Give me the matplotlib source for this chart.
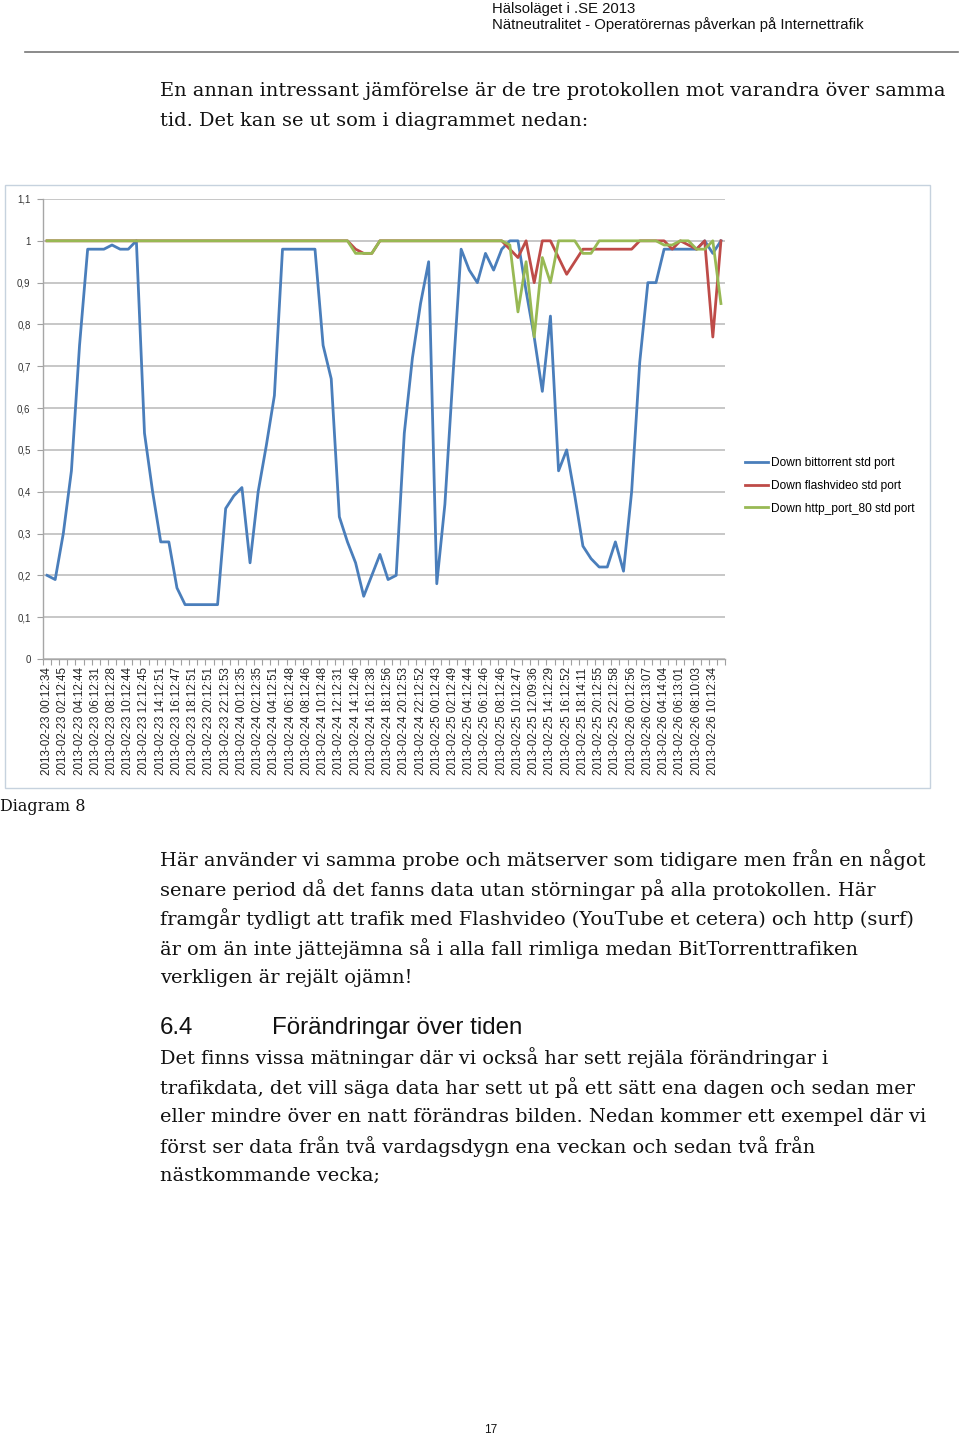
import matplotlib
matplotlib.use("Agg")
import matplotlib.pyplot as plt
from matplotlib.patches import Rectangle
from matplotlib.lines import Line2D

# --- data ---
series_names = ["Down bittorrent std port", "Down flashvideo std port", "Down http_port_80 std port"]

bittorrent = [0.20, 0.19, 0.30, 0.45, 0.75, 0.98, 0.98, 0.98, 0.99, 0.98,
              0.98, 1.00, 0.54, 0.40, 0.28, 0.28, 0.17, 0.13, 0.13, 0.13,
              0.13, 0.13, 0.36, 0.39, 0.41, 0.23, 0.40, 0.51, 0.63, 0.98,
              0.98, 0.98, 0.98, 0.98, 0.75, 0.67, 0.34, 0.28, 0.23, 0.15,
              0.20, 0.25, 0.19, 0.20, 0.54, 0.72, 0.85, 0.95, 0.18, 0.37,
              0.68, 0.98, 0.93, 0.90, 0.97, 0.93, 0.98, 1.00, 1.00, 0.88,
              0.77, 0.64, 0.82, 0.45, 0.50, 0.39, 0.27, 0.24, 0.22, 0.22,
              0.28, 0.21, 0.40, 0.71, 0.90, 0.90, 0.98, 0.98, 0.98, 0.98,
              0.98, 1.00, 0.97, 1.00]

flashvideo = [1.00, 1.00, 1.00, 1.00, 1.00, 1.00, 1.00, 1.00, 1.00, 1.00,
              1.00, 1.00, 1.00, 1.00, 1.00, 1.00, 1.00, 1.00, 1.00, 1.00,
              1.00, 1.00, 1.00, 1.00, 1.00, 1.00, 1.00, 1.00, 1.00, 1.00,
              1.00, 1.00, 1.00, 1.00, 1.00, 1.00, 1.00, 1.00, 0.98, 0.97,
              0.97, 1.00, 1.00, 1.00, 1.00, 1.00, 1.00, 1.00, 1.00, 1.00,
              1.00, 1.00, 1.00, 1.00, 1.00, 1.00, 1.00, 0.98, 0.96, 1.00,
              0.90, 1.00, 1.00, 0.96, 0.92, 0.95, 0.98, 0.98, 0.98, 0.98,
              0.98, 0.98, 0.98, 1.00, 1.00, 1.00, 1.00, 0.98, 1.00, 0.99,
              0.98, 1.00, 0.77, 1.00]

http80 = [1.00, 1.00, 1.00, 1.00, 1.00, 1.00, 1.00, 1.00, 1.00, 1.00,
          1.00, 1.00, 1.00, 1.00, 1.00, 1.00, 1.00, 1.00, 1.00, 1.00,
          1.00, 1.00, 1.00, 1.00, 1.00, 1.00, 1.00, 1.00, 1.00, 1.00,
          1.00, 1.00, 1.00, 1.00, 1.00, 1.00, 1.00, 1.00, 0.97, 0.97,
          0.97, 1.00, 1.00, 1.00, 1.00, 1.00, 1.00, 1.00, 1.00, 1.00,
          1.00, 1.00, 1.00, 1.00, 1.00, 1.00, 1.00, 0.99, 0.83, 0.95,
          0.77, 0.96, 0.90, 1.00, 1.00, 1.00, 0.97, 0.97, 1.00, 1.00,
          1.00, 1.00, 1.00, 1.00, 1.00, 1.00, 0.99, 0.99, 1.00, 1.00,
          0.98, 0.98, 1.00, 0.85]

# every second hourly sample carries a label
tick_labels = ["2013-02-23 00:12:34", "2013-02-23 02:12:45", "2013-02-23 04:12:44",
               "2013-02-23 06:12:31", "2013-02-23 08:12:28", "2013-02-23 10:12:44",
               "2013-02-23 12:12:45", "2013-02-23 14:12:51", "2013-02-23 16:12:47",
               "2013-02-23 18:12:51", "2013-02-23 20:12:51", "2013-02-23 22:12:53",
               "2013-02-24 00:12:35", "2013-02-24 02:12:35", "2013-02-24 04:12:51",
               "2013-02-24 06:12:48", "2013-02-24 08:12:46", "2013-02-24 10:12:48",
               "2013-02-24 12:12:31", "2013-02-24 14:12:46", "2013-02-24 16:12:38",
               "2013-02-24 18:12:56", "2013-02-24 20:12:53", "2013-02-24 22:12:52",
               "2013-02-25 00:12:43", "2013-02-25 02:12:49", "2013-02-25 04:12:44",
               "2013-02-25 06:12:46", "2013-02-25 08:12:46", "2013-02-25 10:12:47",
               "2013-02-25 12:09:36", "2013-02-25 14:12:29", "2013-02-25 16:12:52",
               "2013-02-25 18:14:11", "2013-02-25 20:12:55", "2013-02-25 22:12:58",
               "2013-02-26 00:12:56", "2013-02-26 02:13:07", "2013-02-26 04:14:04",
               "2013-02-26 06:13:01", "2013-02-26 08:10:03", "2013-02-26 10:12:34"]

y_ticks = [0, 0.1, 0.2, 0.3, 0.4, 0.5, 0.6, 0.7, 0.8, 0.9, 1.0, 1.1]
y_tick_labels = ["0", "0,1", "0,2", "0,3", "0,4", "0,5", "0,6", "0,7", "0,8", "0,9", "1", "1,1"]

header = ["Hälsoläget i .SE 2013",
          "Nätneutralitet - Operatörernas påverkan på Internettrafik"]
intro = ["En annan intressant jämförelse är de tre protokollen mot varandra över samma",
         "tid. Det kan se ut som i diagrammet nedan:"]
para1 = ["Här använder vi samma probe och mätserver som tidigare men från en något",
         "senare period då det fanns data utan störningar på alla protokollen. Här",
         "framgår tydligt att trafik med Flashvideo (YouTube et cetera) och http (surf)",
         "är om än inte jättejämna så i alla fall rimliga medan BitTorrenttrafiken",
         "verkligen är rejält ojämn!"]
para2 = ["Det finns vissa mätningar där vi också har sett rejäla förändringar i",
         "trafikdata, det vill säga data har sett ut på ett sätt ena dagen och sedan mer",
         "eller mindre över en natt förändras bilden. Nedan kommer ett exempel där vi",
         "först ser data från två vardagsdygn ena veckan och sedan två från",
         "nästkommande vecka;"]

W, H = 960, 1438
fig = plt.figure(figsize=(W / 100, H / 100), dpi=100)
fig.patch.set_facecolor("white")

def fx(x):
    return x / W

def fy(y):
    return 1 - y / H

SANS = ["Liberation Sans", "DejaVu Sans"]
SERIF = ["DejaVu Serif"]

# page header
fig.text(fx(492), fy(8.5), header[0], fontsize=10.7, family=SANS, va="center", color="#111111")
fig.text(fx(492), fy(25), header[1], fontsize=10.7, family=SANS, va="center", color="#111111")
fig.add_artist(Line2D([fx(25), fx(958)], [fy(52), fy(52)], color="#777777", lw=1.2))

body_fs = 13.95
for k, line in enumerate(intro):
    fig.text(fx(160), fy(91 + 29.5 * k), line, fontsize=body_fs, family=SERIF, va="center", color="#111111")

# chart area frame
fig.add_artist(Rectangle((fx(5), fy(788)), fx(930) - fx(5), fy(185) - fy(788),
                         transform=fig.transFigure, fill=False, ec="#c6d2de", lw=1.0))

ax = fig.add_axes([fx(43), fy(659), fx(725) - fx(43), fy(199) - fy(659)])
x = list(range(len(bittorrent)))
ax.plot(x, bittorrent, color="#4a7ebb", lw=2.0, label=series_names[0], solid_joinstyle="round")
ax.plot(x, flashvideo, color="#be4b48", lw=2.0, label=series_names[1], solid_joinstyle="round")
ax.plot(x, http80, color="#98b954", lw=2.0, label=series_names[2], solid_joinstyle="round")

ax.set_xlim(-0.5, len(bittorrent) - 0.5)
ax.set_ylim(0, 1.1)
ax.set_yticks(y_ticks)
ax.set_yticklabels(y_tick_labels, fontsize=7.0, family=SANS, color="#333333")
ax.set_xticks(range(0, len(bittorrent), 2))
ax.set_xticklabels(tick_labels, rotation=90, fontsize=8.4, family=SANS, color="#222222",
                   va="top", ha="center")
ax.set_xticks([i - 0.5 for i in range(len(bittorrent) + 1)], minor=True)
ax.tick_params(axis="x", which="major", length=0, pad=6)
ax.tick_params(axis="x", which="minor", length=4, color="#a0a0a0", width=0.8)
ax.tick_params(axis="y", length=4, color="#a0a0a0", width=0.8, pad=5)
ax.yaxis.grid(True, color="#bdbdbd", lw=1.2)
ax.set_axisbelow(True)
for s in ["top", "right"]:
    ax.spines[s].set_visible(False)
for s in ["left", "bottom"]:
    ax.spines[s].set_color("#a6a6a6")
    ax.spines[s].set_linewidth(1.0)

fig.legend(loc="upper left", bbox_to_anchor=(fx(745), fy(457)), frameon=False,
           handlelength=1.95, handletextpad=0.25, labelspacing=0.9,
           borderpad=0, borderaxespad=0, prop={"family": SANS, "size": 8.6})

fig.text(fx(0), fy(806), "Diagram 8", fontsize=11.5, family=SERIF, va="center", color="#111111")

for k, line in enumerate(para1):
    fig.text(fx(160), fy(860 + 29.5 * k), line, fontsize=body_fs, family=SERIF, va="center", color="#111111")

fig.text(fx(160), fy(1028), "6.4", fontsize=17.4, family=SANS, va="center", color="#111111")
fig.text(fx(272), fy(1028), "Förändringar över tiden", fontsize=17.4, family=SANS, va="center", color="#111111")

for k, line in enumerate(para2):
    fig.text(fx(160), fy(1058 + 29.5 * k), line, fontsize=body_fs, family=SERIF, va="center", color="#111111")

fig.text(fx(491), fy(1430), "17", fontsize=8.5, family=SANS, va="center", ha="center", color="#111111")

fig.savefig("out.png", dpi=100)
